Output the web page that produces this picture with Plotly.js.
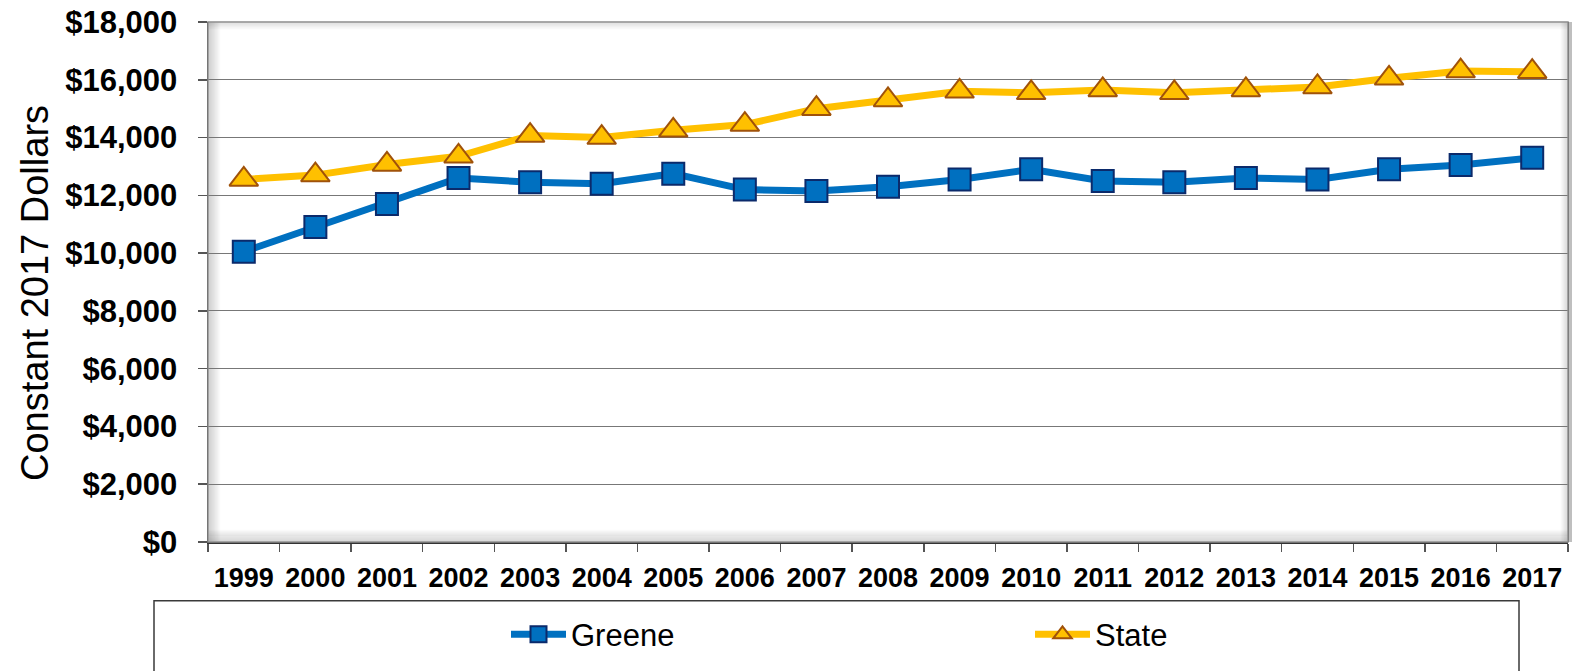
<!DOCTYPE html>
<html>
<head>
<meta charset="utf-8">
<script src="https://cdn.plot.ly/plotly-3.0.1.min.js"></script>
<style>
html,body{margin:0;padding:0;background:#fff;}
#chart{width:1577px;height:671px;}
</style>
</head>
<body>
<div id="chart"></div>
<script>
// ---- data ----
const years = ["1999","2000","2001","2002","2003","2004","2005","2006","2007","2008","2009","2010","2011","2012","2013","2014","2015","2016","2017"];
const greene = [10050,10900,11700,12600,12450,12400,12750,12200,12150,12300,12550,12900,12500,12450,12600,12550,12900,13050,13300];
const state  = [12550,12700,13070,13350,14070,14000,14250,14450,15000,15300,15600,15550,15650,15550,15650,15750,16050,16300,16280];
const yTickVals = [0,2000,4000,6000,8000,10000,12000,14000,16000,18000];
const yTickText = ["$0","$2,000","$4,000","$6,000","$8,000","$10,000","$12,000","$14,000","$16,000","$18,000"];
const seriesNames = ["Greene","State"];
const yTitle = "Constant 2017 Dollars";

// ---- layout geometry (pixels) ----
const W = 1577, H = 671;
const L = 208, R = 1568, T = 22, B = 544;
const pw = R - L, ph = B - T;
const px = x => (x - L) / pw;
const py = y => (B - y) / ph;

const shapes = [];
// inner shadow of plot area
for (let i = 0; i < 12; i++) {
  const a = 0.16 * (1 - i / 12);
  const col = `rgba(0,0,0,${a.toFixed(3)})`;
  shapes.push({type:'line', xref:'paper', yref:'paper', x0:px(L+1+i), x1:px(L+1+i), y0:py(B), y1:py(T), line:{color:col, width:1.2}, layer:'below'});
  shapes.push({type:'line', xref:'paper', yref:'paper', x0:px(L), x1:px(R), y0:py(B-1-i), y1:py(B-1-i), line:{color:col, width:1.2}, layer:'below'});
}
for (let i = 0; i < 7; i++) {
  const a = 0.12 * (1 - i / 7);
  const col = `rgba(0,0,0,${a.toFixed(3)})`;
  shapes.push({type:'line', xref:'paper', yref:'paper', x0:px(L), x1:px(R), y0:py(T+1+i), y1:py(T+1+i), line:{color:col, width:1.2}, layer:'below'});
  shapes.push({type:'line', xref:'paper', yref:'paper', x0:px(R-1-i), x1:px(R-1-i), y0:py(B), y1:py(T), line:{color:col, width:1.2}, layer:'below'});
}
// plot border
shapes.push({type:'rect', xref:'paper', yref:'paper', x0:0, x1:1, y0:0, y1:1, line:{color:'#8c8c8c', width:1.5}, layer:'above'});
shapes.push({type:'line', xref:'paper', yref:'paper', x0:px(R+2), x1:px(R+2), y0:py(B), y1:py(T), line:{color:'rgba(0,0,0,0.25)', width:4}, layer:'above'});
// legend box
shapes.push({type:'rect', xref:'paper', yref:'paper', x0:px(154), x1:px(1519), y0:py(603), y1:py(690), line:{color:'#3a3a3a', width:1.5}, fillcolor:'rgba(0,0,0,0)'});

const traces = [
  {
    type:'scatter', mode:'lines+markers', x: years, y: greene, name: seriesNames[0],
    line:{color:'#0070C0', width:7},
    marker:{symbol:'square', size:22, color:'#0070C0', line:{color:'#0B2A6B', width:2}},
    cliponaxis:false
  },
  {
    type:'scatter', mode:'lines+markers', x: years, y: state, name: seriesNames[1],
    line:{color:'#FFC000', width:7},
    marker:{symbol:'triangle-up', size:25, color:'#FFC000', line:{color:'#A0520A', width:2}},
    cliponaxis:false
  }
];

const layout = {
  width: W, height: H,
  margin:{l:L, r:W-R, t:T, b:H-B, pad:0},
  paper_bgcolor:'#ffffff', plot_bgcolor:'#ffffff',
  font:{family:'"Liberation Sans", Arial, sans-serif', color:'#000'},
  showlegend:true,
  legend:{
    orientation:'h', x:px(506), xanchor:'left', y:py(637), yanchor:'middle',
    font:{size:31, family:'"Liberation Sans", Arial, sans-serif', color:'#000'},
    bgcolor:'rgba(0,0,0,0)', borderwidth:0,
    entrywidth:454, entrywidthmode:'pixels', itemwidth:55
  },
  xaxis:{
    type:'category', range:[-0.5, 18.5], tickson:'boundaries',
    ticks:'outside', ticklen:8, tickcolor:'#555', tickwidth:1.5,
    showline:true, linecolor:'#333', linewidth:1.5,
    showgrid:false, zeroline:false,
    tickfont:{size:27, family:'"Liberation Sans", Arial, sans-serif', weight:'bold', color:'#000'},
    ticklabelstandoff:11, fixedrange:true
  },
  yaxis:{
    range:[0,18000], tickvals:yTickVals, ticktext:yTickText,
    ticks:'outside', ticklen:9, tickcolor:'#555', tickwidth:1.5,
    showline:true, linecolor:'#333', linewidth:1.5,
    showgrid:true, gridcolor:'#777', gridwidth:1.2, zeroline:false,
    tickfont:{size:31, family:'"Liberation Sans", Arial, sans-serif', weight:'bold', color:'#000'},
    ticklabelstandoff:14, fixedrange:true
  },
  shapes: shapes,
  annotations:[{
    text: yTitle, xref:'paper', yref:'paper', x:px(35), y:py(294),
    xanchor:'center', yanchor:'middle', showarrow:false, textangle:-90,
    font:{size:38, family:'"Liberation Sans", Arial, sans-serif', color:'#000'}
  }]
};

Plotly.newPlot('chart', traces, layout, {displayModeBar:false, staticPlot:true});
</script>
</body>
</html>
